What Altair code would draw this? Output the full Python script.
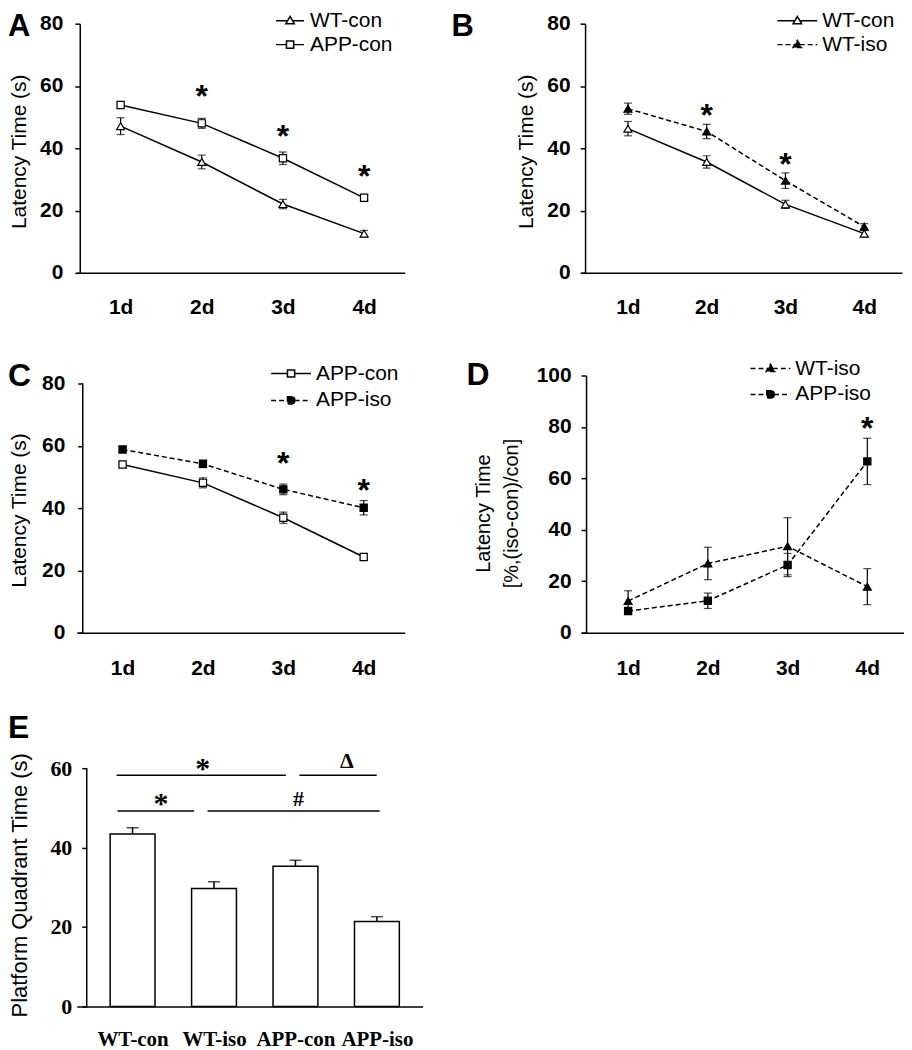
import json
import altair as alt
import pandas as pd

SANS = "Liberation Sans"
SERIF = "Liberation Serif"

# ---------------- data ----------------
days = [1, 2, 3, 4]
day_labels = ["1d", "2d", "3d", "4d"]
panel_letters = ["A", "B", "C", "D", "E"]
sig_mark = "*"

# Panel A
a_series = ["WT-con", "APP-con"]
a_wt_con = [47.1, 35.6, 22.1, 12.6]
a_wt_con_err = [2.7, 2.2, 1.5, 1.0]
a_app_con = [53.9, 48.0, 36.8, 24.1]
a_app_con_err = [0.7, 1.6, 2.0, 0.7]
a_star_days = [2, 3, 4]
a_star_y = [58.8, 46.0, 33.0]

# Panel B
b_series = ["WT-con", "WT-iso"]
b_wt_con = [46.3, 35.6, 22.0, 12.6]
b_wt_con_err = [2.3, 2.0, 1.3, 1.0]
b_wt_iso = [52.7, 45.4, 29.6, 14.8]
b_wt_iso_err = [1.8, 2.3, 2.5, 1.0]
b_star_days = [2, 3]
b_star_y = [52.5, 37.0]

# Panel C
c_series = ["APP-con", "APP-iso"]
c_app_con = [54.0, 48.1, 36.9, 24.3]
c_app_con_err = [0.7, 1.6, 1.8, 0.7]
c_app_iso = [58.8, 54.2, 46.0, 40.1]
c_app_iso_err = [0.8, 1.2, 1.7, 2.3]
c_star_days = [3, 4]
c_star_y = [56.3, 47.8]

# Panel D
d_series = ["WT-iso", "APP-iso"]
d_wt_iso = [12.3, 26.9, 33.6, 17.9]
d_wt_iso_err = [4.0, 6.3, 11.1, 7.0]
d_app_iso = [8.4, 12.4, 26.3, 66.6]
d_app_iso_err = [1.0, 3.0, 4.5, 9.0]
d_star_days = [4]
d_star_y = [81.9]

# Panel E
e_groups = ["WT-con", "WT-iso", "APP-con", "APP-iso"]
e_pos = [1, 2, 3, 4]
e_means = [43.4, 29.7, 35.3, 21.4]
e_errs = [1.6, 1.7, 1.5, 1.2]
sig_x1 = [0.804, 3.048, 0.815, 1.92]
sig_x2 = [2.882, 3.998, 1.754, 4.034]
sig_y = [58.2, 58.2, 49.2, 49.2]
sig_text = ["*", "Δ", "*", "#"]
sig_text_x = [1.86, 3.63, 1.35, 3.036]
sig_text_y = [61.1, 62.0, 52.2, 52.3]

# ---------------- styles ----------------
STYLE = {
    "WT-con": {"shape": "triangle-up", "kind": "tri", "fill": "white", "dashed": False},
    "APP-con": {"shape": "square", "kind": "sq", "fill": "white", "dashed": False},
    "WT-iso": {"shape": "triangle-up", "kind": "tri", "fill": "black", "dashed": True},
    "APP-iso": {"shape": "square", "kind": "sq", "fill": "black", "dashed": True},
}
DASH = [5, 3]
LEG_SYM = 324      # legend symbol size -> 9 px per path unit


def legend_path(kind, h):
    if kind == "tri":
        return f"M{-h},0L-0.26,0M0.26,0L{h},0M0,-0.47L0.47,0.33L-0.47,0.33Z"
    return f"M{-h},0L-0.4,0M0.4,0L{h},0M-0.4,-0.4L0.4,-0.4L0.4,0.4L-0.4,0.4Z"


def line_panel(c):
    rows = []
    for name, mvals, evals in zip(c["series"], c["means"], c["errs"]):
        for d, m, e in zip(days, mvals, evals):
            rows.append({"series": name, "day": d, "mean": m, "err": e})
    df = pd.DataFrame(rows)
    xs = alt.Scale(domain=c["xdomain"], nice=False, zero=False)
    ys = alt.Scale(domain=c["ydomain"], nice=False, zero=False)
    xaxis = alt.Axis(values=days, labelExpr=json.dumps(day_labels) + "[datum.value - 1]",
                     ticks=False, tickSize=0, grid=False, title=None, domainColor="black",
                     domainWidth=1.5, labelFont=SANS, labelFontWeight="bold", labelFontSize=21,
                     labelColor="black", labelPadding=c["xlabpad"])
    yaxis = alt.Axis(values=c["yticks"], grid=False, offset=c["yoff"], tickSize=5,
                     tickColor="black", tickWidth=1.5, domain=c.get("ydomainline", True),
                     domainColor="black", domainWidth=1.5, labelFont=SANS,
                     labelFontWeight="bold", labelFontSize=21, labelColor="black",
                     labelPadding=c["ylabpad"], title=c["title"], titleFont=SANS,
                     titleFontWeight="normal", titleFontSize=c.get("titlesize", 21),
                     titleColor="black", titleX=c["titlex"], titleY=c["titley"],
                     titleAngle=270, titleAlign="center", titleBaseline="middle",
                     titleLineHeight=28)
    X = alt.X("day:Q", scale=xs, axis=xaxis)
    base = alt.Chart(df).encode(x=X, y=alt.Y("mean:Q", scale=ys, axis=yaxis))
    eb = base.transform_calculate(lo="datum.mean - datum.err", hi="datum.mean + datum.err")

    series = c["series"]
    legend = alt.Legend(title=None, orient="none", legendX=c["legx"], legendY=c["legy"],
                        symbolSize=LEG_SYM, symbolStrokeColor="black", symbolStrokeWidth=1.5,
                        symbolOpacity=1, labelFont=SANS, labelFontSize=21, labelColor="black",
                        labelOffset=c["laboff"], rowPadding=c.get("rowpad", 2), padding=0,
                        symbolOffset=0)
    leg = base.mark_point(filled=True, opacity=0).encode(
        shape=alt.Shape("series:N", legend=legend, scale=alt.Scale(
            domain=series, range=[legend_path(STYLE[s]["kind"], c["half"]) for s in series])),
        fill=alt.Fill("series:N", legend=legend, scale=alt.Scale(
            domain=series, range=[STYLE[s]["fill"] for s in series])),
        stroke=alt.Stroke("series:N", legend=legend, scale=alt.Scale(
            domain=series, range=["black" for s in series])),
        strokeDash=alt.StrokeDash("series:N", legend=legend, scale=alt.Scale(
            domain=series, range=[DASH if STYLE[s]["dashed"] else [1, 0] for s in series])),
    )
    layers = [leg]
    layers.append(eb.mark_rule(color="black", strokeWidth=1.2).encode(
        y=alt.Y("lo:Q", scale=ys, axis=yaxis), y2="hi:Q"))
    for f in ["lo", "hi"]:
        layers.append(eb.mark_tick(color="black", thickness=1.2, size=8, orient="horizontal").encode(
            y=alt.Y(f + ":Q", scale=ys, axis=yaxis)))
    for s in series:
        st = STYLE[s]
        kw = {"strokeDash": DASH} if st["dashed"] else {}
        layers.append(base.transform_filter(alt.datum.series == s).mark_line(
            color="black", strokeWidth=1.5, **kw))
    for s in series:
        st = STYLE[s]
        layers.append(base.transform_filter(alt.datum.series == s).mark_point(
            shape=st["shape"], filled=True, fill=st["fill"], stroke="black", strokeWidth=1.2,
            size=64 if st["kind"] == "tri" else 52, opacity=1))
    sdf = pd.DataFrame({"day": c["star_days"], "y": c["star_y"]})
    layers.append(alt.Chart(sdf).mark_text(text=sig_mark, font=SANS, fontWeight="bold",
                                           fontSize=32, dy=17, baseline="alphabetic",
                                           align="center", color="black").encode(
        x=X, y=alt.Y("y:Q", scale=ys, axis=yaxis)))
    if "axis_span" in c:
        rdf = pd.DataFrame({"lo": [c["axis_span"][0]], "hi": [c["axis_span"][1]]})
        layers.append(alt.Chart(rdf).mark_rule(color="black", strokeWidth=1.5).encode(
            x=alt.value(-c["yoff"]), y=alt.Y("lo:Q", scale=ys, axis=yaxis), y2="hi:Q"))
    ldf = pd.DataFrame({"t": [c["letter"]]})
    layers.append(alt.Chart(ldf).mark_text(font=SANS, fontWeight="bold", fontSize=c.get("letsize", 32),
                                           align="left", baseline="alphabetic",
                                           color="black").encode(
        text="t:N", x=alt.value(c["letx"]), y=alt.value(c["lety"])))
    return alt.layer(*layers).properties(width=c["width"], height=c["height"])


A = line_panel(dict(series=a_series, means=[a_wt_con, a_app_con], errs=[a_wt_con_err, a_app_con_err],
                    star_days=a_star_days, star_y=a_star_y, xdomain=[0.46, 4.5], ydomain=[0, 80],
                    yticks=[0, 20, 40, 60, 80], yoff=-3, ylabpad=12, xlabpad=24,
                    title="Latency Time (s)", titlex=-60, titley=128,
                    legx=203.5, legy=-13.5, laboff=9.5, half=1.56, letter=panel_letters[0],
                    letx=-69, lety=12, letsize=31, width=329, height=250))
B = line_panel(dict(series=b_series, means=[b_wt_con, b_wt_iso], errs=[b_wt_con_err, b_wt_iso_err],
                    star_days=b_star_days, star_y=b_star_y, xdomain=[0.405, 4.48], ydomain=[0, 80],
                    yticks=[0, 20, 40, 60, 80], yoff=-4, ylabpad=10, xlabpad=24,
                    title="Latency Time (s)", titlex=-59, titley=128,
                    legx=206.5, legy=-13.5, laboff=14.5, half=2.22, letter=panel_letters[1],
                    letx=-130, lety=12, letsize=31, width=322, height=250))
C = line_panel(dict(series=c_series, means=[c_app_con, c_app_iso], errs=[c_app_con_err, c_app_iso_err],
                    star_days=c_star_days, star_y=c_star_y, xdomain=[0.43, 4.51], ydomain=[0, 82.56],
                    yticks=[0, 20, 40, 60, 80], yoff=-6, ylabpad=13, xlabpad=25,
                    ydomainline=False, axis_span=[0, 80],
                    title="Latency Time (s)", titlex=-63, titley=135,
                    legx=204.5, legy=-12.5, laboff=14.5, rowpad=5, half=2.22, letter=panel_letters[2],
                    letx=-69, lety=11, width=329, height=258))
D = line_panel(dict(series=d_series, means=[d_wt_iso, d_app_iso], errs=[d_wt_iso_err, d_app_iso_err],
                    star_days=d_star_days, star_y=d_star_y, xdomain=[0.41, 4.46], ydomain=[0, 100],
                    yticks=[0, 20, 40, 60, 80, 100], yoff=-5, ylabpad=10, xlabpad=25,
                    title=["Latency Time", "[%,(iso-con)/con]"], titlesize=20, titlex=-103, titley=138,
                    legx=179.5, legy=-17.5, laboff=14.5, rowpad=4, half=2.22, letter=panel_letters[3],
                    letx=-115, lety=10, width=324, height=258))

# ---------------- panel E ----------------
# plot area extended above 60 so that rows can share one spacing; axis line drawn 0..60
E_TOP = 68.28
e_df = pd.DataFrame({"pos": e_pos, "group": e_groups, "mean": e_means, "err": e_errs})
exs = alt.Scale(domain=[0.376, 4.5], nice=False, zero=False)
eys = alt.Scale(domain=[0, E_TOP], nice=False, zero=False)
exaxis = alt.Axis(values=e_pos, labelExpr=json.dumps(e_groups) + "[datum.value - 1]",
                  ticks=False, tickSize=0, grid=False, title=None, domainColor="black",
                  domainWidth=1.5, labelFont=SERIF, labelFontWeight="bold", labelFontSize=21,
                  labelColor="black", labelPadding=22)
eyaxis = alt.Axis(values=[0, 20, 40, 60], grid=False, offset=-10, tickSize=5, tickColor="black",
                  tickWidth=1.5, domain=False, labelFont=SERIF,
                  labelFontWeight="bold", labelFontSize=22, labelColor="black", labelPadding=10,
                  title="Platform Quadrant Time (s)", titleFont=SANS, titleFontWeight="normal",
                  titleFontSize=22, titleColor="black", titleX=-67, titleY=150, titleAngle=270,
                  titleAlign="center", titleBaseline="middle")
EX = alt.X("pos:Q", scale=exs, axis=exaxis)
ebase = alt.Chart(e_df).encode(x=EX)
e_bars = ebase.mark_bar(size=45, fill="white", stroke="black", strokeWidth=1.5).encode(
    y=alt.Y("mean:Q", scale=eys, axis=eyaxis), y2=alt.datum(0))
e_eb = ebase.transform_calculate(hi="datum.mean + datum.err")
e_rule = e_eb.mark_rule(color="black", strokeWidth=1.5).encode(
    y=alt.Y("mean:Q", scale=eys, axis=eyaxis), y2="hi:Q")
e_cap = e_eb.mark_tick(color="black", thickness=1.5, size=12, orient="horizontal").encode(
    y=alt.Y("hi:Q", scale=eys, axis=eyaxis))
e_axis_line = alt.Chart(pd.DataFrame({"lo": [0], "hi": [60]})).mark_rule(
    color="black", strokeWidth=1.5).encode(x=alt.value(10), y=alt.Y("lo:Q", scale=eys, axis=eyaxis),
                                           y2="hi:Q")
sig_df = pd.DataFrame({"x1": sig_x1, "x2": sig_x2, "y": sig_y})
e_sig = alt.Chart(sig_df).mark_rule(color="black", strokeWidth=1.5).encode(
    x=alt.X("x1:Q", scale=exs, axis=exaxis), x2="x2:Q", y=alt.Y("y:Q", scale=eys, axis=eyaxis))
st_df = pd.DataFrame({"x": sig_text_x, "y": sig_text_y, "t": sig_text})
st_base = alt.Chart(st_df).encode(x=alt.X("x:Q", scale=exs, axis=exaxis),
                                  y=alt.Y("y:Q", scale=eys, axis=eyaxis), text="t:N")
e_star = st_base.transform_filter(alt.datum.t == "*").mark_text(
    font=SERIF, fontWeight="bold", fontSize=30, dy=14, baseline="alphabetic", align="center",
    color="black")
e_oth = st_base.transform_filter(alt.datum.t != "*").mark_text(
    font=SERIF, fontWeight="bold", fontSize=22, dy=7.5, baseline="alphabetic", align="center",
    color="black")
e_letter = alt.Chart(pd.DataFrame({"t": [panel_letters[4]]})).mark_text(
    font=SANS, fontWeight="bold", fontSize=32, align="left", baseline="alphabetic",
    color="black").encode(text="t:N", x=alt.value(-69), y=alt.value(3))
E = alt.layer(e_bars, e_rule, e_cap, e_axis_line, e_sig, e_star, e_oth, e_letter).properties(
    width=347, height=272)

IND = dict(shape="independent", fill="independent", stroke="independent",
           strokeDash="independent")
chart = (alt.concat(A, B, C, D, E, columns=2, spacing={"row": 103, "column": 159},
                    bounds="flush", align="each")
         .resolve_scale(**IND)
         .properties(padding={"left": 0, "top": 0, "right": 0, "bottom": 0}, background="white")
         .configure_view(stroke=None))

chart.save("out.html", embed_options={"renderer": "svg", "actions": False})
